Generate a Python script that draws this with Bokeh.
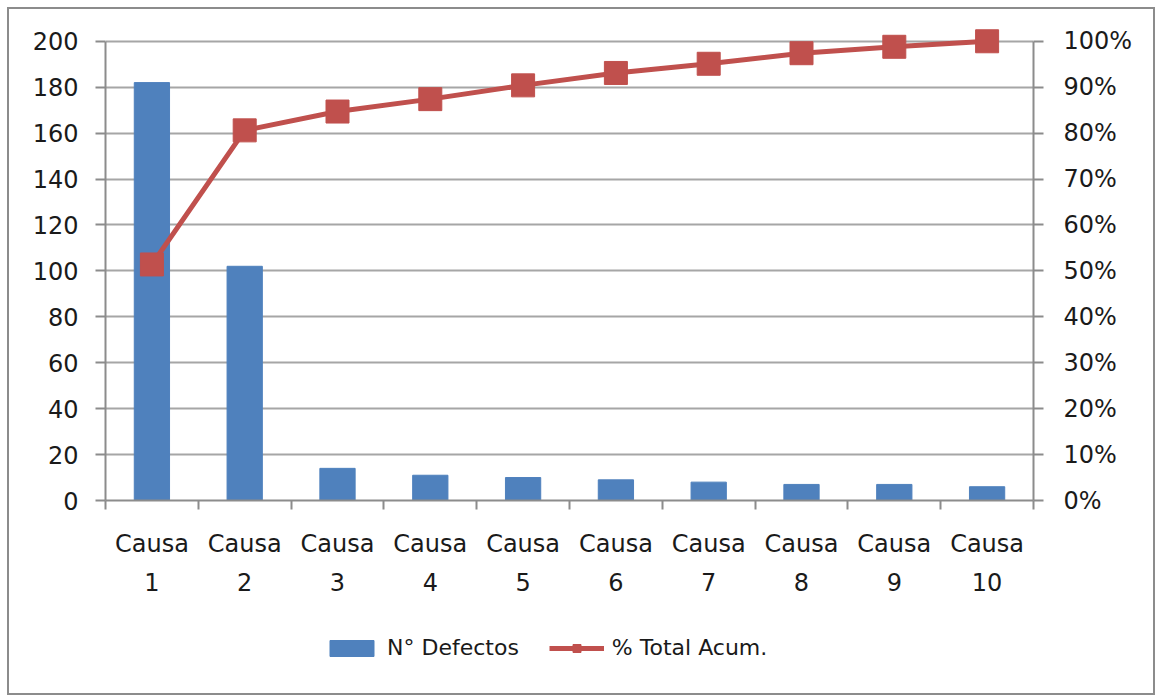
from bokeh.plotting import figure
from bokeh.models import Range1d, LinearAxis, FixedTicker, Legend, LegendItem
from bokeh.layouts import column
from bokeh.embed import file_html
from bokeh.resources import INLINE

# ---- data ----
causas = ["Causa 1", "Causa 2", "Causa 3", "Causa 4", "Causa 5",
          "Causa 6", "Causa 7", "Causa 8", "Causa 9", "Causa 10"]
defectos = [182, 102, 14, 11, 10, 9, 8, 7, 7, 6]
pct_acum = [51.4, 80.6, 84.7, 87.4, 90.4, 93.1, 95.1, 97.4, 98.8, 100.0]
left_ticks = [0, 20, 40, 60, 80, 100, 120, 140, 160, 180, 200]
right_ticks = [0, 10, 20, 30, 40, 50, 60, 70, 80, 90, 100]
bar_label = "N° Defectos"
line_label = "% Total Acum."

BLUE = "#4F81BD"
RED = "#C0504D"
GRAY = "#8c8c8c"
GRID = "#a6a6a6"
TXT = "#1a1a1a"
FONT = "DejaVu Sans"

n = len(causas)
x = [i + 0.5 for i in range(n)]

p = figure(width=1144, height=601, output_backend="svg", toolbar_location=None,
           x_range=Range1d(0, n), y_range=Range1d(0, 206),
           min_border_left=96, min_border_right=120, min_border_top=18, min_border_bottom=110)
p.extra_y_ranges = {"pct": Range1d(0, 103)}
p.outline_line_color = None
p.background_fill_color = "white"
p.border_fill_color = "white"

# grid
p.xgrid.visible = False
p.ygrid.ticker = FixedTicker(ticks=left_ticks)
p.ygrid.grid_line_color = GRID
p.ygrid.grid_line_width = 2

# x axis
xa = p.xaxis[0]
xa.ticker = FixedTicker(ticks=x, minor_ticks=list(range(0, n + 1)))
xa.major_label_overrides = {xi: c.replace(" ", "\n") for xi, c in zip(x, causas)}
xa.major_tick_line_color = None
xa.minor_tick_line_color = GRAY
xa.minor_tick_line_width = 2
xa.minor_tick_in = 0
xa.minor_tick_out = 9
xa.axis_line_color = GRAY
xa.axis_line_width = 2
xa.major_label_text_font = FONT
xa.major_label_text_font_size = "24px"
xa.major_label_text_color = TXT
xa.major_label_standoff = 20
xa.major_label_text_line_height = 1.4

# left axis
ya = p.yaxis[0]
ya.ticker = FixedTicker(ticks=left_ticks)
ya.bounds = (0, 200)
ya.axis_line_color = GRAY
ya.axis_line_width = 2
ya.major_tick_line_color = GRAY
ya.major_tick_line_width = 2
ya.major_tick_in = 0
ya.major_tick_out = 10
ya.minor_tick_line_color = None
ya.major_label_text_font = FONT
ya.major_label_text_font_size = "24px"
ya.major_label_text_color = TXT
ya.major_label_standoff = 17

# right axis
ra = LinearAxis(y_range_name="pct", ticker=FixedTicker(ticks=right_ticks), bounds=(0, 100))
ra.major_label_overrides = {t: f"{t}%" for t in right_ticks}
ra.axis_line_color = GRAY
ra.axis_line_width = 2
ra.major_tick_line_color = GRAY
ra.major_tick_line_width = 2
ra.major_tick_in = 0
ra.major_tick_out = 10
ra.minor_tick_line_color = None
ra.major_label_text_font = FONT
ra.major_label_text_font_size = "24px"
ra.major_label_text_color = TXT
ra.major_label_standoff = 20
p.add_layout(ra, "right")

# glyphs
p.vbar(x=x, top=defectos, width=0.38, fill_color=BLUE, line_color=BLUE)
p.line(x=x, y=pct_acum, y_range_name="pct", line_color=RED, line_width=5)
p.scatter(x=x, y=pct_acum, y_range_name="pct", marker="square", size=23,
          fill_color=RED, line_color=RED)

# legend strip below the chart (hidden proxy renderers only feed the legend)
lp = figure(width=1144, height=83, output_backend="svg", toolbar_location=None,
            x_axis_type=None, y_axis_type=None, min_border=0,
            x_range=Range1d(0, 1), y_range=Range1d(0, 1))
lp.outline_line_color = None
lp.xgrid.visible = False
lp.ygrid.visible = False
lb = lp.vbar(x=x, top=defectos, width=0.38, fill_color=BLUE, line_color=BLUE, visible=False)
ll = lp.line(x=x, y=pct_acum, line_color=RED, line_width=5, visible=False)
lm = lp.scatter(x=x, y=pct_acum, marker="square", size=23, fill_color=RED,
                line_color=RED, visible=False)

legend = Legend(items=[LegendItem(label=bar_label, renderers=[lb]),
                       LegendItem(label=line_label, renderers=[ll, lm])],
                orientation="horizontal", location=(219, 33))
legend.border_line_color = None
legend.background_fill_alpha = 0
legend.inactive_fill_alpha = 0
legend.glyph_width = 55
legend.glyph_height = 20
legend.label_standoff = 8
legend.spacing = 30
legend.padding = 5
legend.margin = 0
legend.label_text_font = FONT
legend.label_text_font_size = "22px"
legend.label_text_color = TXT
lp.add_layout(legend, "center")

layout = column(p, lp, spacing=0,
                styles={"border": "2px solid #8c8c8c", "margin-left": "7px",
                        "margin-top": "7px", "background-color": "white"})

open("out.html", "w").write(file_html(layout, INLINE))
